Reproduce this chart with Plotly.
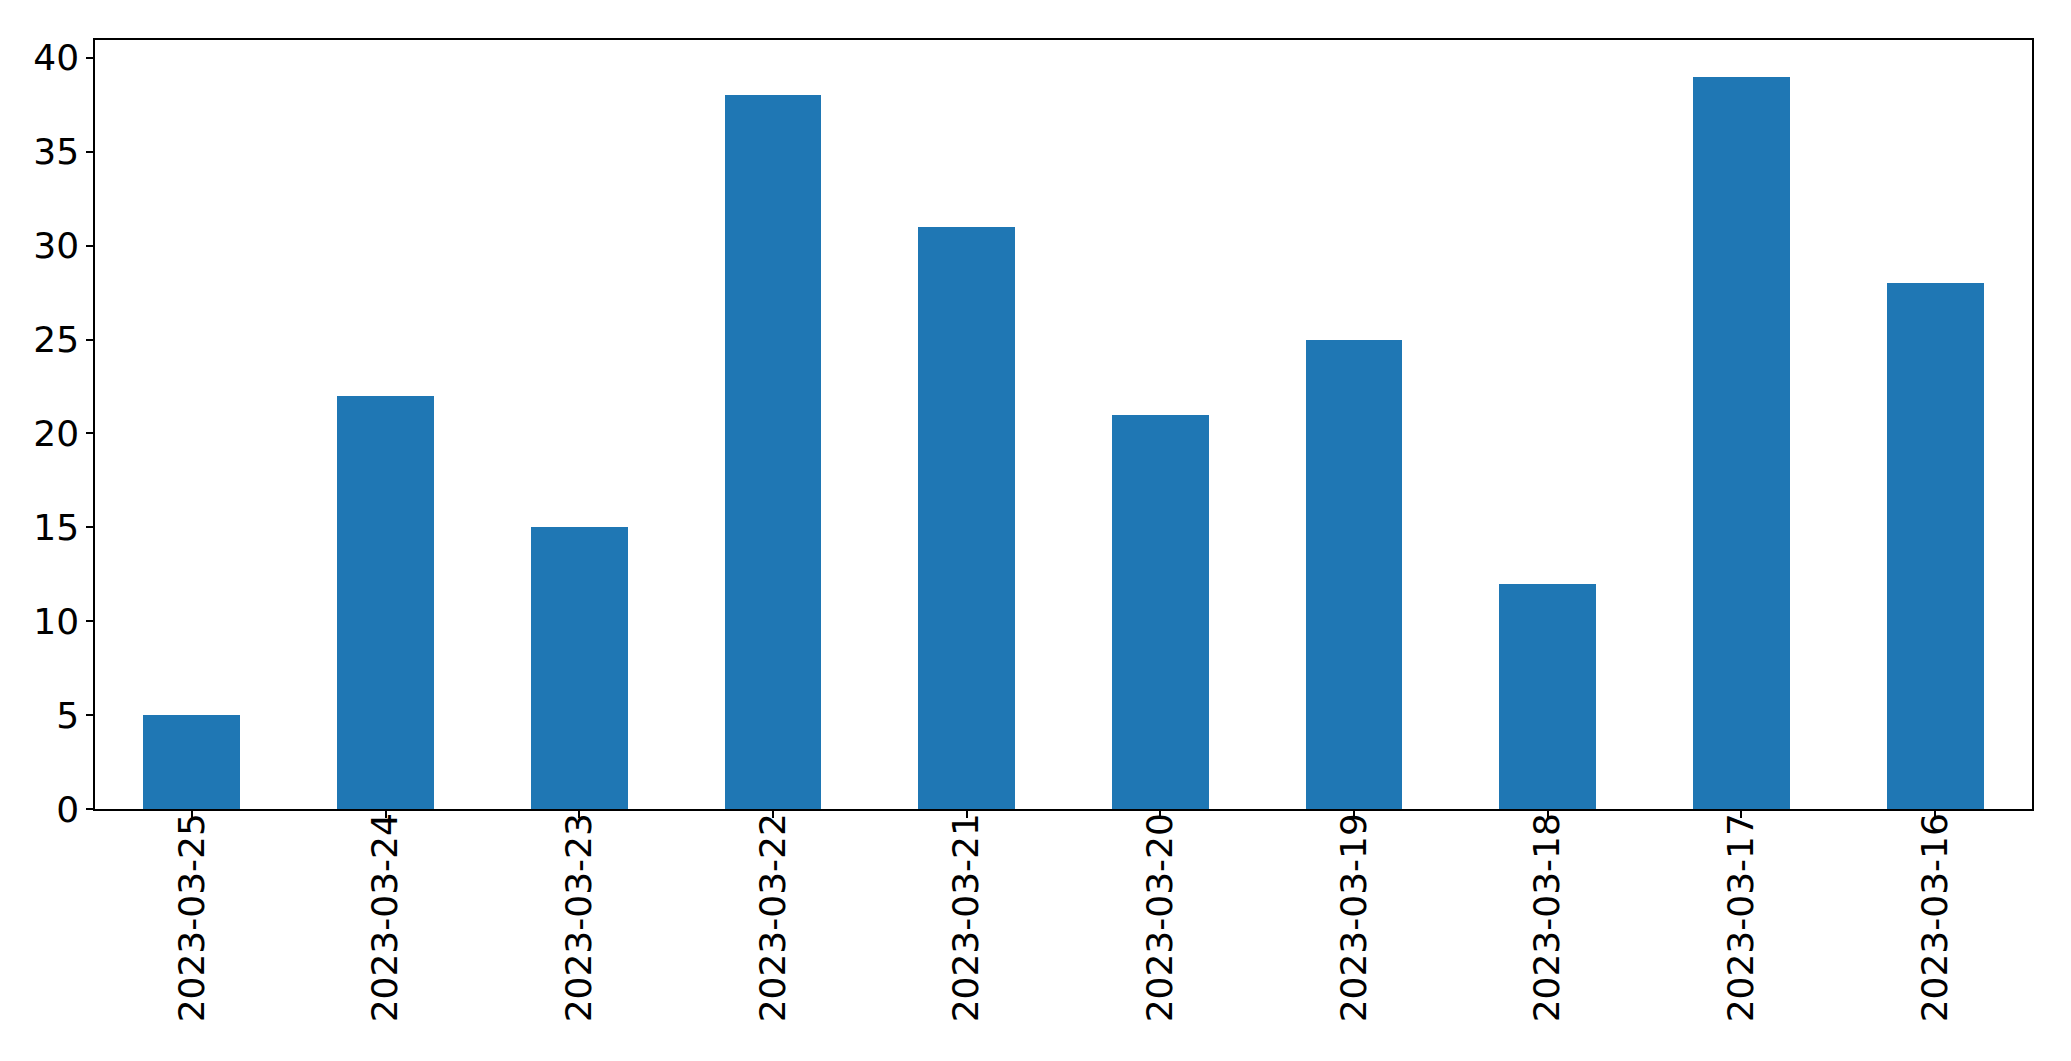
import plotly.graph_objects as go

dates = ["2023-03-25", "2023-03-24", "2023-03-23", "2023-03-22", "2023-03-21",
         "2023-03-20", "2023-03-19", "2023-03-18", "2023-03-17", "2023-03-16"]
counts = [5, 22, 15, 38, 31, 21, 25, 12, 39, 28]
y_ticks = [0, 5, 10, 15, 20, 25, 30, 35, 40]

fig = go.Figure(go.Bar(x=dates, y=counts, marker_color="#1f77b4",
                       marker_line_width=0, width=0.5))

font = dict(family="DejaVu Sans", size=36, color="black")
fig.update_layout(
    width=2071, height=1061,
    margin=dict(l=95, r=39, t=40, b=252, pad=0),
    plot_bgcolor="white", paper_bgcolor="white",
    showlegend=False, bargap=0,
    font=font,
)
fig.update_xaxes(type="category", range=[-0.5, len(dates) - 0.5],
                 showline=True, linecolor="black", linewidth=1.5, mirror=True,
                 ticks="outside", ticklen=7, tickwidth=1.5, tickcolor="black",
                 tickangle=-90, showgrid=False, tickfont=font, ticklabelstandoff=-19)
fig.update_yaxes(range=[0, max(counts) * 1.05], tickvals=y_ticks,
                 showline=True, linecolor="black", linewidth=1.5, mirror=True,
                 ticks="outside", ticklen=7, tickwidth=1.5, tickcolor="black",
                 showgrid=False, zeroline=False, tickfont=font, ticklabelstandoff=0)

fig.write_html("out.html")
